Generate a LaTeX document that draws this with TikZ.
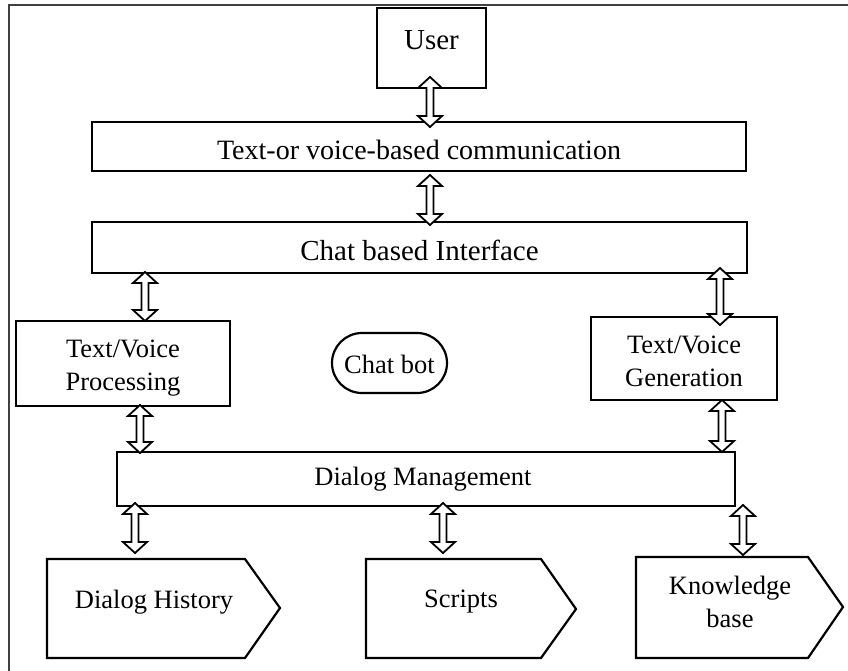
\documentclass[tikz,border=0pt]{standalone}
\usepackage{fontspec}
\setmainfont{Liberation Serif}
\usetikzlibrary{calc}
\newcommand\dblarrow[2]{%
  \draw[arr] let \p1=(#1), \p2=(#2) in
    (\x1,\y1) -- (\x1+12pt,\y1-11pt) -- (\x1+3.5pt,\y1-11pt) --
    (\x1+3.5pt,\y2+11pt) -- (\x1+12pt,\y2+11pt) -- (\x1,\y2) --
    (\x1-12pt,\y2+11pt) -- (\x1-3.5pt,\y2+11pt) -- (\x1-3.5pt,\y1-11pt) --
    (\x1-12pt,\y1-11pt) -- cycle;}
\begin{document}
\begin{tikzpicture}[x=1pt,y=-1pt,
  box/.style={draw, line width=2.2pt, inner sep=0pt},
  txt/.style={inner sep=0pt, align=center, font=\fontsize{26.5}{33}\selectfont},
  bigtxt/.style={txt, font=\fontsize{29}{34}\selectfont},
  shp/.style={draw, line width=2.2pt, line join=miter},
  arr/.style={draw, line width=1.8pt, fill=white, line join=miter},
  frame/.style={draw=black!75, line width=1.5pt}]
\useasboundingbox (0,0) rectangle (848,670);
\clip (0,0) rectangle (848,670);
\draw[frame] (9,5) rectangle (870,690);

\node[box, minimum width=109pt, minimum height=80pt] (user) at (431.5,48) {};
\node[bigtxt] (usert) at (431.5,40) {User};
\node[box, minimum width=654pt, minimum height=49pt] (textor) at (419,146.5) {};
\node[bigtxt, font=\fontsize{28}{34}\selectfont] (textort) at (419,150) {Text-or voice-based communication};
\node[box, minimum width=655pt, minimum height=51pt] (chat) at (419.5,247.5) {};
\node[bigtxt] (chatt) at (419.5,250) {Chat based Interface};
\node[box, minimum width=214pt, minimum height=85pt] (tvp) at (123,363.5) {};
\node[txt] (tvpt) at (123,368) {Text/Voice\\Processing};
\node[box, minimum width=186pt, minimum height=83pt] (tvg) at (684,358.5) {};
\node[txt] (tvgt) at (684,361) {Text/Voice\\Generation};
\node[box, minimum width=115pt, minimum height=60pt, rounded corners=30pt] (bot) at (389.5,363) {};
\node[txt] (bott) at (389.5,364) {Chat bot};
\node[box, minimum width=618pt, minimum height=54pt] (dm) at (426,479) {};
\node[txt] (dmt) at (423,479) {Dialog Management};

\draw[shp] (47,559) -- (245,559) -- (280,608) -- (245,658) -- (47,658) -- cycle;
\node[txt] (dh) at (154,602) {Dialog History};
\draw[shp] (366,559) -- (541,559) -- (576,609) -- (541,658) -- (366,658) -- cycle;
\node[txt] (scr) at (461,602) {Scripts};
\draw[shp] (636,557) -- (808,557) -- (843,607) -- (808,658) -- (636,658) -- cycle;
\node[txt] (kb) at (730,602) {Knowledge\\base};

\coordinate (a1t) at (430,77);  \coordinate (a1b) at (430,127);
\coordinate (a2t) at (430,175); \coordinate (a2b) at (430,225);
\coordinate (a3t) at (145,272); \coordinate (a3b) at (145,321);
\coordinate (a4t) at (720,268); \coordinate (a4b) at (720,325);
\coordinate (a5t) at (140,405); \coordinate (a5b) at (140,453);
\coordinate (a6t) at (722,400); \coordinate (a6b) at (722,452);
\coordinate (a7t) at (135,503); \coordinate (a7b) at (135,553);
\coordinate (a8t) at (443,503); \coordinate (a8b) at (443,553);
\coordinate (a9t) at (743,505); \coordinate (a9b) at (743,555);
\dblarrow{a1t}{a1b}
\dblarrow{a2t}{a2b}
\dblarrow{a3t}{a3b}
\dblarrow{a4t}{a4b}
\dblarrow{a5t}{a5b}
\dblarrow{a6t}{a6b}
\dblarrow{a7t}{a7b}
\dblarrow{a8t}{a8b}
\dblarrow{a9t}{a9b}
\end{tikzpicture}
\end{document}
